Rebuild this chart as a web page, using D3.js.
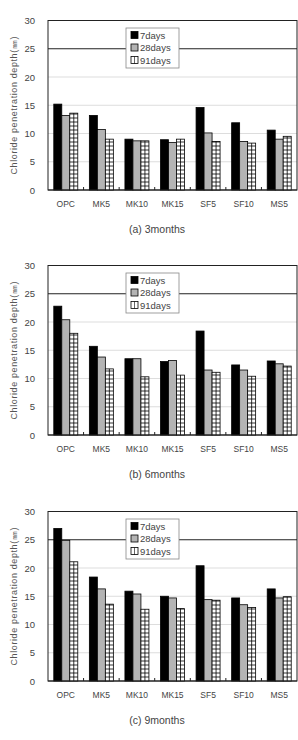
<!DOCTYPE html>
<html>
<head>
<meta charset="utf-8">
<script src="https://cdn.jsdelivr.net/npm/d3@7"></script>
<style>
  body { margin: 0; background: #fff; }
  svg { display: block; }
</style>
</head>
<body>
<div id="graf"></div>
<script>
// datos
var categorias = ["OPC", "MK5", "MK10", "MK15", "SF5", "SF10", "MS5"];
var series = ["7days", "28days", "91days"];
var ticksY = [0, 5, 10, 15, 20, 25, 30];
var titulos = ["(a)  3months", "(b)  6months", "(c)  9months"];

// valores por panel: [7days, 28days, 91days] de cada categoria
var meses3 = [
  [15.2, 13.2, 13.6], [13.2, 10.7, 9.0], [9.0, 8.7, 8.7], [8.9, 8.4, 9.0],
  [14.6, 10.1, 8.6], [11.9, 8.6, 8.3], [10.6, 9.0, 9.5]
];
var meses6 = [
  [22.8, 20.4, 18.0], [15.7, 13.8, 11.7], [13.5, 13.5, 10.3], [13.0, 13.2, 10.6],
  [18.4, 11.5, 11.1], [12.4, 11.5, 10.4], [13.1, 12.6, 12.2]
];
var meses9 = [
  [27.0, 24.9, 21.1], [18.4, 16.3, 13.6], [15.9, 15.4, 12.7], [15.0, 14.7, 12.8],
  [20.4, 14.4, 14.3], [14.7, 13.5, 13.0], [16.3, 14.7, 14.9]
];
var paneles = [meses3, meses6, meses9];

var ancho = 298, alto = 740;
var izq = 48, der = 297, arriba = 20.5, abajo = 190;
var offsets = [0, 245, 491];

var svg = d3.select("#graf").append("svg")
  .attr("width", ancho).attr("height", alto);

var x = d3.scaleBand().domain(categorias).range([izq, der]).padding(0);
var xs = d3.scaleBand().domain(series).range([-12, 12]).padding(0);
var y = d3.scaleLinear().domain([0, 30]).range([abajo, arriba]);
var relleno = { "7days": "#000", "28days": "#b4b4b4", "91days": "#fff" };
var fuente = "'Liberation Sans', Arial, sans-serif";

function barraRayada(g, bx, by, bw, bh) {
  // rayado tipo cuadricula
  g.append("rect").attr("x", bx).attr("y", by).attr("width", bw).attr("height", bh)
    .attr("fill", "#fff").attr("stroke", "#000").attr("stroke-width", 0.8);
  g.append("line").attr("x1", bx + bw / 2).attr("x2", bx + bw / 2)
    .attr("y1", by).attr("y2", by + bh).attr("stroke", "#000").attr("stroke-width", 0.8);
  d3.range(by + bh - 4, by, -4).forEach(function(yy) {
    g.append("line").attr("x1", bx).attr("x2", bx + bw)
      .attr("y1", yy).attr("y2", yy).attr("stroke", "#000").attr("stroke-width", 0.8);
  });
}

paneles.forEach(function(datos, p) {
  var g = svg.append("g").attr("transform", "translate(0," + offsets[p] + ")");

  // lineas de cuadricula
  g.selectAll(".grid").data(ticksY.filter(function(t) { return t > 0 && t < 30; }))
    .enter().append("line")
    .attr("x1", izq).attr("x2", der)
    .attr("y1", function(d) { return y(d); }).attr("y2", function(d) { return y(d); })
    .attr("stroke", function(d) { return d === 25 ? "#222" : "#d4d4d4"; })
    .attr("stroke-width", function(d) { return d === 25 ? 1 : 0.8; });

  // marco
  g.append("rect").attr("x", izq).attr("y", y(30))
    .attr("width", der - izq).attr("height", y(0) - y(30))
    .attr("fill", "none").attr("stroke", "#222").attr("stroke-width", 1);

  // barras
  categorias.forEach(function(c, i) {
    series.forEach(function(s, j) {
      var v = datos[i][j];
      var bx = x(c) + x.bandwidth() / 2 + xs(s);
      var by = y(v);
      var bw = xs.bandwidth();
      var bh = y(0) - y(v);
      if (s === "91days") {
        barraRayada(g, bx, by, bw, bh);
      } else {
        g.append("rect").attr("x", bx).attr("y", by).attr("width", bw).attr("height", bh)
          .attr("fill", relleno[s]).attr("stroke", "#000").attr("stroke-width", 0.8);
      }
    });
  });

  // eje x
  g.append("line").attr("x1", izq).attr("x2", der).attr("y1", y(0)).attr("y2", y(0))
    .attr("stroke", "#222").attr("stroke-width", 1.2);
  categorias.slice(1).forEach(function(c) {
    g.append("line").attr("x1", x(c)).attr("x2", x(c))
      .attr("y1", y(0)).attr("y2", y(0) - 3).attr("stroke", "#222");
  });
  g.selectAll(".cat").data(categorias).enter().append("text")
    .attr("x", function(d) { return x(d) + x.bandwidth() / 2; })
    .attr("y", 207)
    .attr("text-anchor", "middle")
    .attr("font-family", fuente).attr("font-size", "8.5px").attr("fill", "#444")
    .text(function(d) { return d; });

  // eje y
  g.selectAll(".ty").data(ticksY).enter().append("text")
    .attr("x", 35).attr("y", function(d) { return y(d) + 3.5; })
    .attr("text-anchor", "end")
    .attr("font-family", fuente).attr("font-size", "9.5px").attr("fill", "#444")
    .text(function(d) { return d; });

  g.append("text")
    .attr("transform", "translate(17," + ((arriba + abajo) / 2) + ") rotate(-90)")
    .attr("text-anchor", "middle")
    .attr("font-family", fuente).attr("font-size", "9px").attr("fill", "#555")
    .attr("letter-spacing", "0.6px")
    .text("Chloride penetration depth(\u339C)");

  // leyenda
  var ley = g.append("g");
  ley.append("rect").attr("x", 126).attr("y", 28).attr("width", 53).attr("height", 40)
    .attr("fill", "#fff").attr("stroke", "#888").attr("stroke-width", 0.8);
  series.forEach(function(s, j) {
    var cy = 35 + j * 12.5;
    if (s === "91days") {
      ley.append("rect").attr("x", 131).attr("y", cy - 3.5).attr("width", 7).attr("height", 7)
        .attr("fill", "#fff").attr("stroke", "#000").attr("stroke-width", 0.8);
      ley.append("line").attr("x1", 134.5).attr("x2", 134.5).attr("y1", cy - 3.5).attr("y2", cy + 3.5)
        .attr("stroke", "#000").attr("stroke-width", 0.6);
    } else {
      ley.append("rect").attr("x", 131).attr("y", cy - 3.5).attr("width", 7).attr("height", 7)
        .attr("fill", relleno[s]).attr("stroke", "#000").attr("stroke-width", 0.8);
    }
    ley.append("text").attr("x", 140).attr("y", cy + 3.5)
      .attr("font-family", fuente).attr("font-size", "9.5px").attr("fill", "#444")
      .text(s);
  });

  // titulo del panel
  g.append("text").attr("x", 157).attr("y", 233)
    .attr("text-anchor", "middle")
    .attr("font-family", fuente).attr("font-size", "10.5px").attr("fill", "#444")
    .text(titulos[p]);
});
</script>
</body>
</html>
